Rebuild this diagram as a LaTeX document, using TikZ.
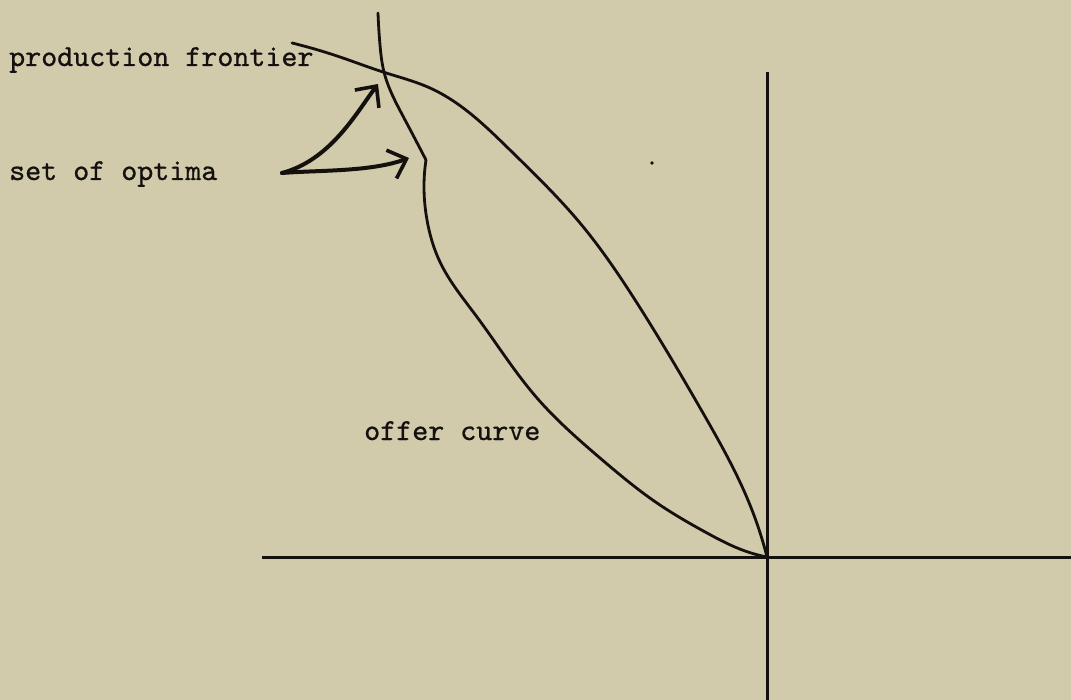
\documentclass[tikz,border=0pt]{standalone}
\usepackage{fontspec}
\newfontfamily\twfont[FakeBold=0.8]{lmmono10-regular.otf}
\usetikzlibrary{arrows.meta,hobby}
\definecolor{paper}{RGB}{209,202,171}
\definecolor{ink}{RGB}{20,16,14}
\begin{document}
\begin{tikzpicture}[x=1pt,y=-1pt,
  axis/.style={draw=ink,line width=3pt},
  curve/.style={draw=ink,line width=2.8pt,line cap=round,line join=round},
  pointer/.style={draw=ink,line width=4pt,line cap=round,
     -{Straight Barb[length=16pt,width=30pt,line width=3.6pt]}},
  lbl/.style={inner sep=0pt,anchor=base west,text=ink,
     font=\twfont\fontsize{30.5}{34}\selectfont}]
\fill[paper] (0,0) rectangle (1071,700);
\useasboundingbox (0,0) rectangle (1071,700);
% axes
\coordinate (O) at (767,557);
\coordinate (xl) at (262,557);
\coordinate (xr) at (1071,557);
\coordinate (yt) at (767,72);
\coordinate (yb) at (767,700);
\draw[axis] (xl) -- (xr);
\draw[axis] (yt) -- (yb);
% production frontier
\draw[curve,use Hobby shortcut] (292,43) .. (340,57) .. (383,72) .. (430,88) .. (510,150) .. (580,223) .. (637,303) .. (703,413) .. (750,505) .. (O);
% set of optima + offer curve
\draw[curve,use Hobby shortcut] (378,13) .. (380,45) .. (384,72) .. (404,118) .. (426,160);
\draw[curve,use Hobby shortcut] (426,160) .. (424,185) .. (427,220) .. (440,262) .. (477,317) .. (537,398) .. (600,458) .. (657,503) .. (707,533) .. (745,551) .. (O);
% labels
\node[lbl] (pf) at (9,66) {production frontier};
\node[lbl] (so) at (9,180) {set of optima};
\node[lbl] (oc) at (364,440) {offer curve};
% arrows
\coordinate (s) at (282,173);
\coordinate (t1) at (378,84);
\coordinate (t2) at (409,158);
\draw[pointer] (s) .. controls (330,160) and (355,115) .. (t1);
\draw[pointer] (s) .. controls (320,170) and (370,172) .. (t2);
% speck
\fill[ink] (652,163) circle (1.8pt);
\end{tikzpicture}
\end{document}
